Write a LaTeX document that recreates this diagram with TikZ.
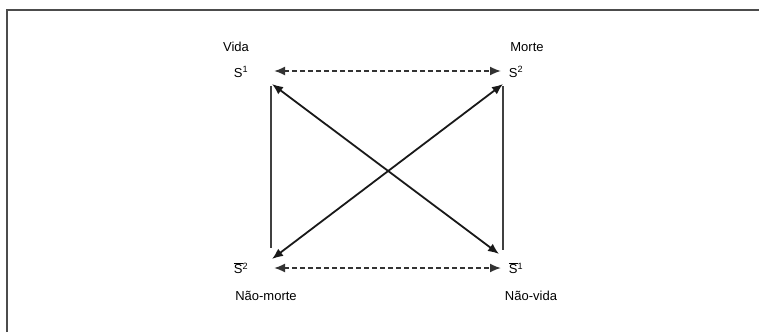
\documentclass[tikz,border=0pt]{standalone}
\usepackage{fontspec}
\setmainfont{Liberation Sans}
\usetikzlibrary{arrows.meta}
\begin{document}
\begin{tikzpicture}[x=1pt,y=-1pt,
  lbl/.style={font=\fontsize{13}{15}\selectfont, text=black, inner sep=0pt},
  sym/.style={font=\fontsize{13}{15}\selectfont, text=black, inner sep=0pt},
  solidline/.style={line width=1.8pt, draw=black!75},
  dbl/.style={line width=1.8pt, draw=black!90, {Latex[length=11pt,width=9pt]}-{Latex[length=11pt,width=9pt]}},
  dashline/.style={line width=1.8pt, draw=black!80, dash pattern=on 5pt off 3pt, {Latex[length=11pt,width=9pt]}-{Latex[length=11pt,width=9pt]}},
  frame/.style={line width=1.8pt, draw=black!70}]
\useasboundingbox (0,0) rectangle (759,332);
\coordinate (fa) at (7,332);
\coordinate (fb) at (7,10);
\coordinate (fc) at (759,10);
\draw[frame] (fa) -- (fb) -- (fc);
% labels
\node[lbl] (vida) at (236,47) {Vida};
\node[sym] (s1) at (241,72) {S\textsuperscript{1}};
\node[lbl] (morte) at (527,47) {Morte};
\node[sym] (s2) at (516,72) {S\textsuperscript{2}};
\node[sym] (ns2) at (241,268) {$\overline{\hbox{S}}$\textsuperscript{2}};
\node[lbl] (naomorte) at (266,296) {Não-morte};
\node[sym] (ns1) at (516,268) {$\overline{\hbox{S}}$\textsuperscript{1}};
\node[lbl] (naovida) at (531,296) {Não-vida};
% connector ends
\coordinate (tl1) at (274,71);
\coordinate (tr1) at (501,71);
\coordinate (bl1) at (274,268);
\coordinate (br1) at (501,268);
\coordinate (tlv) at (271,86);
\coordinate (blv) at (271,248);
\coordinate (trv) at (503,86);
\coordinate (brv) at (503,250);
\coordinate (tld) at (272,84);
\coordinate (brd) at (499,254);
\coordinate (trd) at (503,84);
\coordinate (bld) at (272,259);
% connectors
\draw[dashline] (tl1) -- (tr1);
\draw[dashline] (bl1) -- (br1);
\draw[solidline] (tlv) -- (blv);
\draw[solidline] (trv) -- (brv);
\draw[dbl] (tld) -- (brd);
\draw[dbl] (trd) -- (bld);
\end{tikzpicture}
\end{document}
